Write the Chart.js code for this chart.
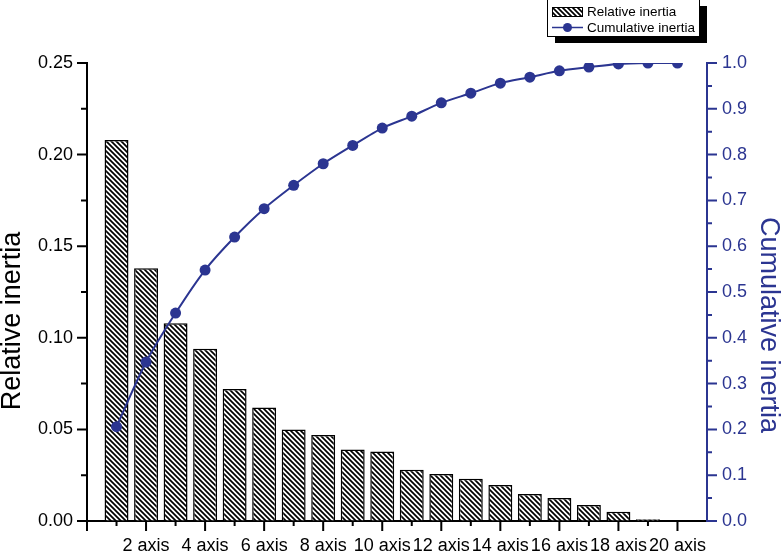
<!DOCTYPE html>
<html><head><meta charset="utf-8">
<script src="https://cdn.jsdelivr.net/npm/chart.js@4/dist/chart.umd.min.js"></script>
<style>html,body{margin:0;padding:0;background:#fff}</style>
</head><body>
<canvas id="c" width="781" height="552"></canvas>
<script>
const categories = ['1 axis','2 axis','3 axis','4 axis','5 axis','6 axis','7 axis','8 axis','9 axis','10 axis',
  '11 axis','12 axis','13 axis','14 axis','15 axis','16 axis','17 axis','18 axis','19 axis','20 axis'];
const relativeInertia = [0.208,0.138,0.108,0.094,0.072,0.062,0.050,0.047,0.039,0.038,
  0.028,0.0257,0.023,0.0197,0.0147,0.0126,0.0087,0.005,0.001,0];
const cumulativeInertia = [0.206,0.347,0.454,0.548,0.620,0.682,0.733,0.780,0.820,0.858,
  0.884,0.913,0.934,0.956,0.969,0.983,0.991,0.998,1.0,1.0];
const seriesNames = ['Relative inertia','Cumulative inertia'];
const leftTickStep = 0.05, rightTickStep = 0.1;

const NAVY = '#2b3591';
const FONT = "'Liberation Sans', Arial, Helvetica, sans-serif";

// hatch pattern
const T = 5;
const tile = document.createElement('canvas');
tile.width = T; tile.height = T;
const tc = tile.getContext('2d');
tc.fillStyle = '#fff'; tc.fillRect(0,0,T,T);
tc.strokeStyle = '#000'; tc.lineWidth = 1.7;
tc.beginPath();
tc.moveTo(-1,-1); tc.lineTo(T+1,T+1);
tc.moveTo(-1,T-1); tc.lineTo(1,T+1);
tc.moveTo(T-1,-1); tc.lineTo(T+1,1);
tc.stroke();
const ctx0 = document.getElementById('c').getContext('2d');
const hatch = ctx0.createPattern(tile, 'repeat');

const labels = [''].concat(categories, ['']);
const barData = [null].concat(relativeInertia, [null]);
const lineData = [null].concat(cumulativeInertia, [null]);

const extras = {
  id: 'extras',
  afterDraw(chart) {
    const ctx = chart.ctx, a = chart.chartArea;
    const x = chart.scales.x, y = chart.scales.y, y1 = chart.scales.y1;
    ctx.save();
    ctx.lineWidth = 2; ctx.strokeStyle = '#000';
    ctx.beginPath();
    for (let i = 0; i <= categories.length; i++) {
      const px = x.getPixelForValue(i);
      const len = i % 2 === 0 ? 10 : 5;
      ctx.moveTo(px, a.bottom); ctx.lineTo(px, a.bottom + len);
    }
    for (let k = 0; k <= 10; k++) {
      const py = y.getPixelForValue(k * 0.025);
      const len = k % 2 === 0 ? 10 : 6;
      ctx.moveTo(a.left, py); ctx.lineTo(a.left - len, py);
    }
    ctx.stroke();
    ctx.strokeStyle = NAVY; ctx.beginPath();
    for (let k = 0; k <= 20; k++) {
      const py = y1.getPixelForValue(k * 0.05);
      const len = k % 2 === 0 ? 10 : 5;
      ctx.moveTo(a.right, py); ctx.lineTo(a.right + len, py);
    }
    ctx.stroke();

    // axis titles
    ctx.font = '27px ' + FONT; ctx.textAlign = 'center'; ctx.textBaseline = 'middle';
    ctx.save(); ctx.translate(13, 321); ctx.rotate(-Math.PI/2);
    ctx.fillStyle = '#000'; ctx.fillText(chart.data.datasets[0].label, 0, 0); ctx.restore();
    ctx.save(); ctx.translate(768, 325); ctx.rotate(Math.PI/2);
    ctx.fillStyle = NAVY; ctx.fillText(chart.data.datasets[1].label, 0, 0); ctx.restore();

    // legend
    ctx.fillStyle = '#000'; ctx.fillRect(555, 6, 152, 37);
    ctx.fillStyle = '#fff'; ctx.fillRect(547, -2, 153, 39);
    ctx.strokeStyle = '#000'; ctx.lineWidth = 1;
    ctx.strokeRect(547.5, -1.5, 152, 38);
    ctx.fillStyle = hatch; ctx.fillRect(552, 7, 31, 10);
    ctx.strokeRect(552.5, 7.5, 30, 9);
    ctx.strokeStyle = NAVY; ctx.lineWidth = 1.5;
    ctx.beginPath(); ctx.moveTo(552, 27.5); ctx.lineTo(583, 27.5); ctx.stroke();
    ctx.fillStyle = NAVY; ctx.beginPath(); ctx.arc(567.5, 27.5, 4.5, 0, Math.PI*2); ctx.fill();
    ctx.fillStyle = '#000'; ctx.font = '13.5px ' + FONT; ctx.textBaseline = 'middle'; ctx.textAlign = 'left';
    ctx.fillText(chart.data.datasets[0].label, 587, 12.5);
    ctx.fillText(chart.data.datasets[1].label, 587, 28);
    ctx.restore();
  }
};

new Chart(ctx0, {
  type: 'bar',
  data: {
    labels: labels,
    datasets: [
      { type: 'bar', label: seriesNames[0], data: barData, yAxisID: 'y', order: 2,
        backgroundColor: hatch, borderColor: '#000', borderWidth: 1.5,
        categoryPercentage: 1, barPercentage: 0.81 },
      { type: 'line', label: seriesNames[1], data: lineData, yAxisID: 'y1', order: 1,
        borderColor: NAVY, borderWidth: 2, backgroundColor: NAVY,
        pointRadius: 5.5, pointBorderWidth: 0, pointBackgroundColor: NAVY, tension: 0.25,
        clip: 0 }
    ]
  },
  options: {
    responsive: false, animation: false, devicePixelRatio: 1,
    layout: { padding: { top: 63, left: 0, right: 0, bottom: 0 } },
    plugins: { legend: { display: false }, tooltip: { enabled: false }, title: { display: false } },
    scales: {
      x: {
        type: 'category', offset: false,
        grid: { display: true, drawOnChartArea: false, drawTicks: false },
        border: { display: true, color: '#000', width: 2 },
        ticks: {
          autoSkip: false, maxRotation: 0, minRotation: 0, padding: 14, color: '#000',
          font: { family: FONT, size: 18 },
          callback: function(v, i) { return (i % 2 === 0 && i > 0 && i <= categories.length) ? this.getLabelForValue(v) : ''; }
        },
        afterFit: s => { s.height = 31; }
      },
      y: {
        position: 'left', min: 0, max: 0.25,
        grid: { display: true, drawOnChartArea: false, drawTicks: false },
        border: { display: true, color: '#000', width: 2 },
        ticks: { stepSize: leftTickStep, padding: 14, color: '#000', font: { family: FONT, size: 18 },
          callback: v => v.toFixed(2) },
        afterFit: s => { s.width = 87; }
      },
      y1: {
        position: 'right', min: 0, max: 1,
        grid: { display: true, drawOnChartArea: false, drawTicks: false },
        border: { display: true, color: NAVY, width: 2 },
        ticks: { stepSize: rightTickStep, padding: 15, color: NAVY, font: { family: FONT, size: 18 },
          callback: v => v.toFixed(1) },
        afterFit: s => { s.width = 74; }
      }
    }
  },
  plugins: [extras]
});
</script>
</body></html>
